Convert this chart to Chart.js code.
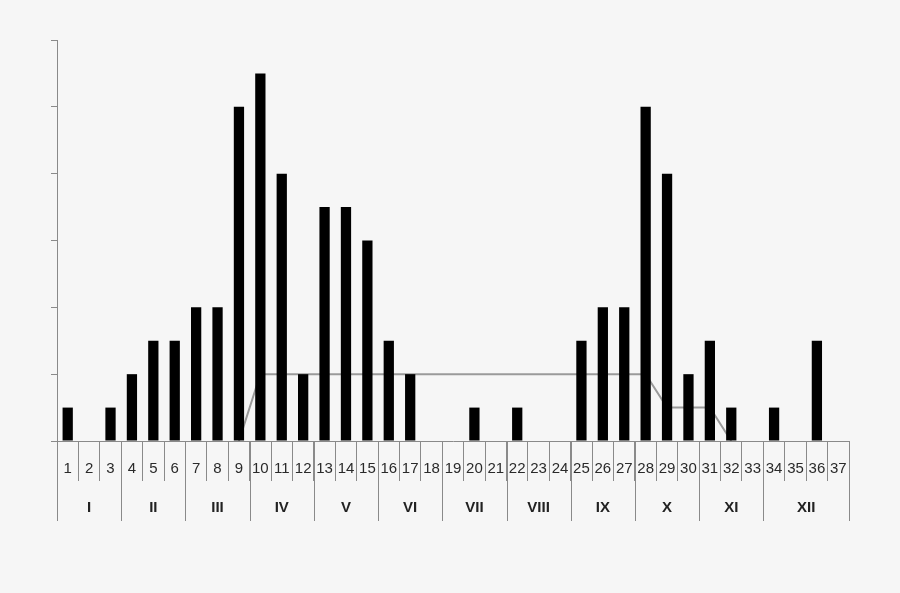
<!DOCTYPE html>
<html>
<head>
<meta charset="utf-8">
<script src="https://cdn.jsdelivr.net/npm/chart.js@4"></script>
<style>
html,body{margin:0;padding:0;background:#f6f6f6;}
#wrap{width:900px;height:593px;}
</style>
</head>
<body>
<div id="wrap"><canvas id="c" width="900" height="593"></canvas></div>
<script>
const categories = ['1','2','3','4','5','6','7','8','9','10','11','12','13','14','15','16','17','18','19','20','21','22','23','24','25','26','27','28','29','30','31','32','33','34','35','36','37'];
const counts = [1,0,1,2,3,3,4,4,10,11,8,2,7,7,6,3,2,0,0,1,0,1,0,0,3,4,4,10,8,2,3,1,0,1,0,3,0];
const trend = [null,null,null,null,null,null,null,null,0,2,2,2,2,2,2,2,2,2,2,2,2,2,2,2,2,2,2,2,1,1,1,0,null,null,null,null,null];
const months = ['I','II','III','IV','V','VI','VII','VIII','IX','X','XI','XII'];
const monthStart = [1,4,7,10,13,16,19,22,25,28,31,34];
const monthEnd = [3,6,9,12,15,18,21,24,27,30,33,37];
const yTicks = [0,2,4,6,8,10,12];

const AXIS = '#8a8a8a';

const bgPlugin = {
  id: 'bg',
  beforeDraw(chart) {
    const ctx = chart.ctx;
    ctx.save();
    ctx.fillStyle = '#f6f6f6';
    ctx.fillRect(0, 0, chart.width, chart.height);
    ctx.restore();
  }
};

const monthPlugin = {
  id: 'months',
  afterDraw(chart) {
    const xs = chart.scales.x;
    const ctx = chart.ctx;
    const half = (xs.getPixelForValue(1) - xs.getPixelForValue(0)) / 2;
    const top = chart.chartArea.bottom;
    const bottom = top + 80;
    ctx.save();
    ctx.strokeStyle = AXIS;
    ctx.lineWidth = 1;
    ctx.fillStyle = '#222';
    ctx.font = 'bold 15px "Liberation Sans", Arial, sans-serif';
    ctx.textAlign = 'center';
    ctx.textBaseline = 'middle';
    months.forEach((m, i) => {
      const l = xs.getPixelForValue(monthStart[i] - 1) - half;
      const r = xs.getPixelForValue(monthEnd[i] - 1) + half;
      ctx.beginPath();
      ctx.moveTo(Math.round(l) + 0.5, top);
      ctx.lineTo(Math.round(l) + 0.5, bottom);
      if (i === months.length - 1) {
        ctx.moveTo(Math.round(r) + 0.5, top);
        ctx.lineTo(Math.round(r) + 0.5, bottom);
      }
      ctx.stroke();
      ctx.fillText(m, (l + r) / 2, top + 67);
    });
    ctx.restore();
  }
};

new Chart(document.getElementById('c'), {
  data: {
    labels: categories,
    datasets: [
      {
        type: 'bar',
        data: counts,
        backgroundColor: '#000000',
        borderWidth: 0,
        categoryPercentage: 0.48,
        barPercentage: 1,
        order: 1
      },
      {
        type: 'line',
        data: trend,
        borderColor: '#9a9a9a',
        borderWidth: 2,
        pointRadius: 0,
        tension: 0,
        spanGaps: false,
        order: 2
      }
    ]
  },
  options: {
    responsive: false,
    animation: false,
    events: [],
    layout: { padding: { left: 0, right: 51, top: 40, bottom: 0 } },
    plugins: { legend: { display: false }, tooltip: { enabled: false } },
    scales: {
      x: {
        offset: true,
        grid: { display: true, drawOnChartArea: false, drawTicks: true, tickLength: 40, color: AXIS, offset: true },
        border: { display: true, color: AXIS, width: 1 },
        ticks: {
          color: '#2a2a2a',
          font: { size: 15, family: '"Liberation Sans", Arial, sans-serif' },
          padding: -21,
          maxRotation: 0,
          autoSkip: false
        },
        afterFit(s) { s.height = 152; }
      },
      y: {
        min: 0,
        max: 12,
        afterBuildTicks(s) { s.ticks = yTicks.map(v => ({ value: v })); },
        ticks: { display: false },
        grid: { display: true, drawOnChartArea: false, drawTicks: true, tickLength: 6, color: AXIS },
        border: { display: true, color: AXIS, width: 1 },
        afterFit(s) { s.width = 57; }
      }
    }
  },
  plugins: [bgPlugin, monthPlugin]
});
</script>
</body>
</html>
